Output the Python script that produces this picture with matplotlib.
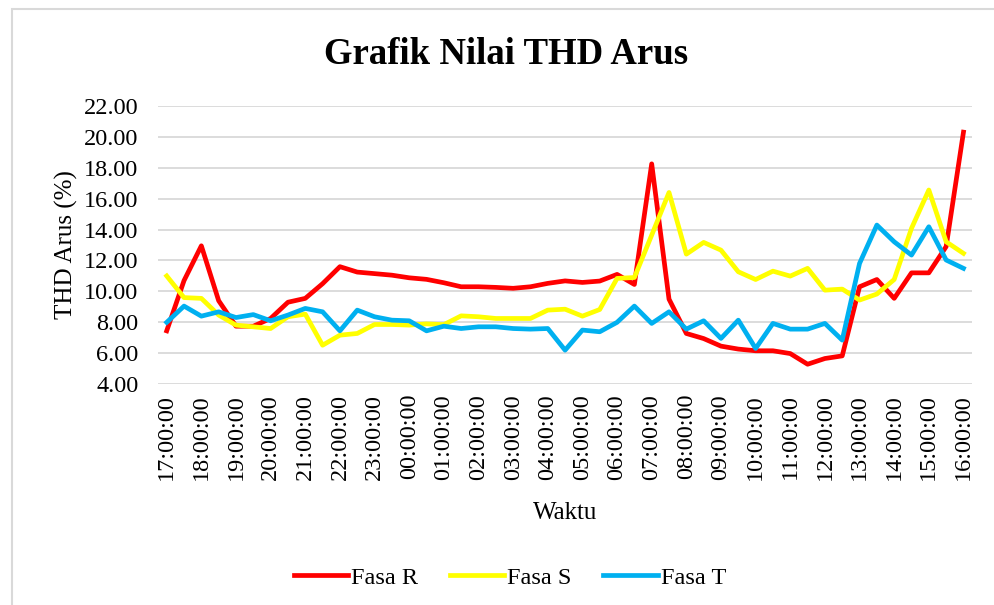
import numpy as np
import matplotlib
matplotlib.use('Agg')
import matplotlib.pyplot as plt
from matplotlib.patches import Rectangle

plt.rcParams['font.family'] = ['Liberation Serif', 'DejaVu Serif']

# half-hour samples, 17:00 -> 16:00
hours = ['17', '18', '19', '20', '21', '22', '23', '00', '01', '02', '03', '04',
         '05', '06', '07', '08', '09', '10', '11', '12', '13', '14', '15', '16']
tick_labels = [h + ':00:00' for h in hours]

fasa_r = [7.45, 10.7, 12.95, 9.4, 7.75, 7.75, 8.25, 9.3, 9.55, 10.5, 11.6, 11.25,
          11.15, 11.05, 10.88, 10.78, 10.56, 10.3, 10.3, 10.26, 10.2, 10.3, 10.52,
          10.68, 10.58, 10.67, 11.1, 10.45, 18.25, 9.5, 7.28, 6.95, 6.46, 6.27,
          6.16, 6.16, 5.98, 5.29, 5.66, 5.83, 10.3, 10.77, 9.55, 11.2, 11.2,
          12.9, 20.3]
fasa_s = [11.0, 9.6, 9.55, 8.47, 7.82, 7.71, 7.6, 8.36, 8.53, 6.52, 7.17, 7.28,
          7.86, 7.86, 7.82, 7.9, 7.85, 8.42, 8.36, 8.25, 8.25, 8.25, 8.79, 8.85,
          8.4, 8.83, 10.84, 10.9, 13.64, 16.4, 12.41, 13.17, 12.67, 11.27, 10.77,
          11.31, 10.99, 11.49, 10.08, 10.15, 9.44, 9.83, 10.77, 14.08, 16.56,
          13.21, 12.46]
fasa_t = [8.0, 9.05, 8.4, 8.68, 8.31, 8.5, 8.1, 8.47, 8.9, 8.68, 7.45, 8.79,
          8.36, 8.14, 8.1, 7.45, 7.75, 7.6, 7.71, 7.71, 7.6, 7.56, 7.6, 6.2, 7.5,
          7.39, 8.0, 9.05, 7.93, 8.68, 7.56, 8.1, 6.96, 8.14, 6.31, 7.93, 7.56,
          7.56, 7.93, 6.85, 11.81, 14.29, 13.21, 12.35, 14.18, 12.03, 11.49]

x = np.arange(len(fasa_r))

fig = plt.figure(figsize=(9.94, 6.05), dpi=100)
ax = fig.add_axes([0.159, 0.365, 0.819, 0.46])

ax.plot(x, fasa_r, color='#FF0000', lw=3.4, label='Fasa R')
ax.plot(x, fasa_s, color='#FFFF00', lw=3.4, label='Fasa S')
ax.plot(x, fasa_t, color='#00B0F0', lw=3.4, label='Fasa T')

ax.set_xlim(-0.5, len(x) - 0.5)
ax.set_ylim(4, 22)
ax.set_yticks(np.arange(4, 22.1, 2))
ax.set_yticklabels(['%.2f' % v for v in np.arange(4, 22.1, 2)])
ax.set_xticks(x[::2])
ax.set_xticklabels(tick_labels, rotation=90)
ax.tick_params(length=0, labelsize=17.5, pad=7)
ax.tick_params(axis='y', pad=14)
ax.grid(axis='y', color='#d9d9d9', lw=1.3)
ax.set_axisbelow(True)
for s in ax.spines.values():
    s.set_visible(False)

ax.set_ylabel('THD Arus (%)', fontsize=18, labelpad=4)
ax.set_xlabel('Waktu', fontsize=18, labelpad=16)

fig.text(0.509, 0.91, 'Grafik Nilai THD Arus', ha='center', va='center',
         fontsize=26.5, fontweight='bold')

fig.legend(loc='center', bbox_to_anchor=(0.513, 0.045), ncol=3, frameon=False,
           fontsize=17.5, handlelength=2.25, handletextpad=0.12, columnspacing=1.3)

fig.patches.append(Rectangle((12 / 994, -0.1), 1.1, 1.1 - 9 / 605,
                             transform=fig.transFigure, fill=False,
                             edgecolor='#d9d9d9', lw=1.5))

fig.savefig('out.png', dpi=100)
